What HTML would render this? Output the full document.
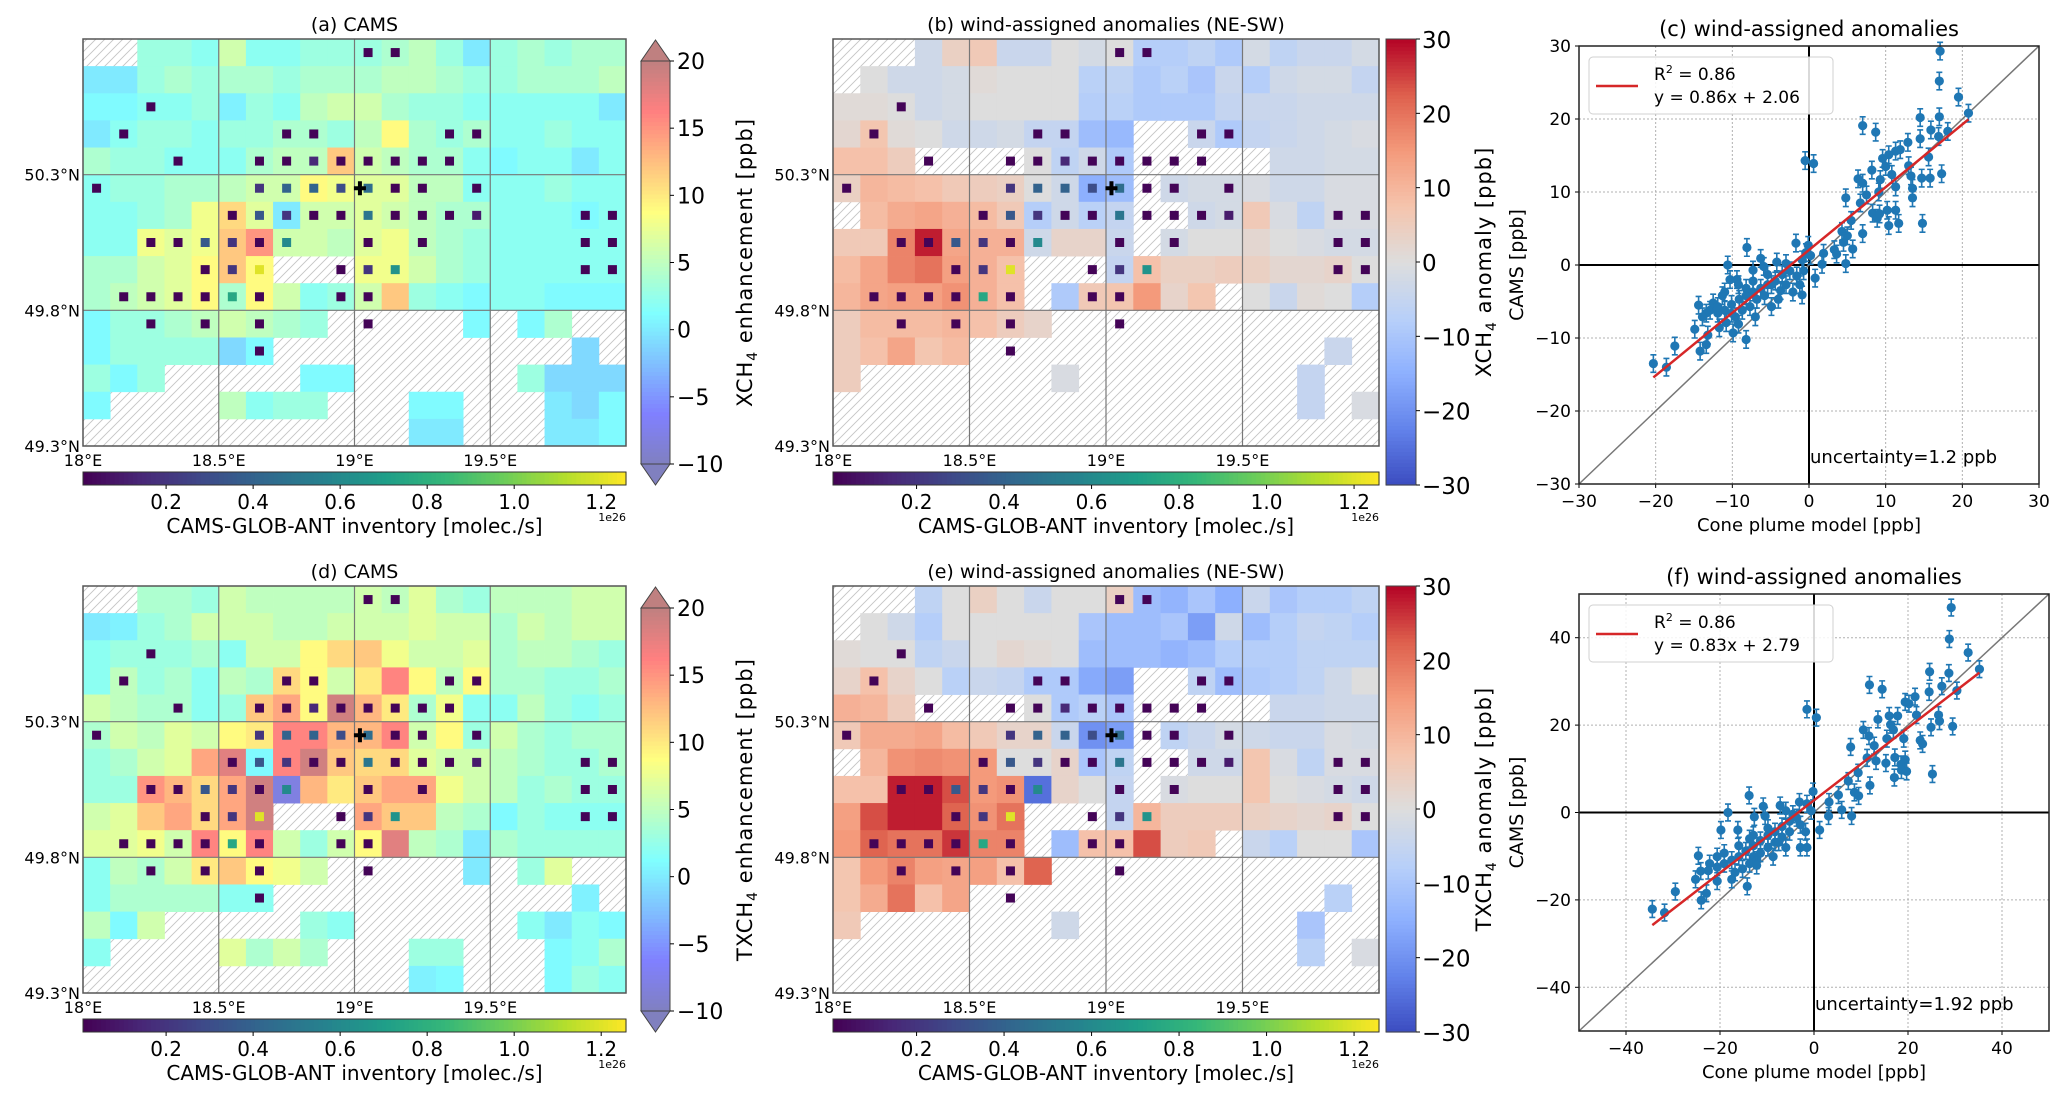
<!DOCTYPE html>
<html><head><meta charset="utf-8">
<style>
html,body{margin:0;padding:0;background:#fff;}
svg{display:block;font-family:"DejaVu Sans","Liberation Sans",sans-serif;}
</style></head>
<body>
<svg id="fig" xmlns="http://www.w3.org/2000/svg" width="2067" height="1103" viewBox="0 0 2067 1103">
<defs>
<pattern id="hatch" patternUnits="userSpaceOnUse" width="9" height="9">
<rect width="9" height="9" fill="#fff"/>
<path d="M-1,10 L10,-1 M-4,4 L4,-4 M5,13 L13,5" stroke="#c4c4c4" stroke-width="0.9"/>
</pattern>
</defs>
</svg>
<script>
const N = null;
// ---- map data (ppb), rows north->south, cols west->east (0.1 deg cells) ----
const gridA = [
[N,N,3,3,2,6,2,2,3,3,3,4,5,3,0,3,4,3,4,4],
[0,0,3,4,3,4,4,3,4,4,4,5,5,4,3,3,4,4,4,5],
[1,1,2,2,3,0.5,3,2,5,6,6,4,3,3,2,2,2,2,2,0],
[0,2,3,3,2,3,3,4,4,3,5,9,4,3,4,2,2,3,2,2],
[4,3,3,2,2,2,4,5,5,12,6,5,4,4,2,1,2,2,0,2],
[2,3,3,4,4,5,6,6,9,8,7,7,5,5,2,2,2,3,2,2],
[2,2,3,4,8,11,7,0,6,6,7,6,5,4,4,2,2,2,1,2],
[2,2,8,7,8,12,15,6,6,5,7,8,5,4,3,2,2,2,2,2],
[4,4,6,7,9,12,9,N,N,N,8,8,6,4,3,2,2,2,2,2],
[4,5,6,7,9,4,9,6,2,3,6,12,3,2,1,2,2,1,1,1],
[1,3,3,4,5,6,5,4,3,N,N,N,N,N,1,N,1,4,N,N],
[1,3,3,3,3,-1,1,N,N,N,N,N,N,N,N,N,N,N,-1,N],
[3,1,3,N,N,N,N,N,1,1,N,N,N,N,N,N,3,-1,-1,-1],
[1,N,N,N,N,5,2,3,3,N,N,N,1,1,N,N,N,0,-1,1],
[N,N,N,N,N,N,N,N,N,N,N,N,0,0,N,N,N,0,0,1]];
const gridB = [
[N,N,N,-3,4,6,-4,-4,0,-2,0,-8,-8,-6,-9,-2,-6,-4,-4,-2],
[N,0,-3,-3,-2,1,0,0,0,-7,-6,-9,-7,-10,-4,-8,-3,-2,-2,-5],
[1,1,0,-3,-2,0,0,0,0,-8,-7,-9,-9,-9,-5,-4,-4,-3,-3,-3],
[2,7,1,0,-3,-3,-2,-5,-5,-12,-13,N,N,-4,-9,-5,-4,-3,-2,-1],
[8,8,5,N,N,N,N,0,-6,-3,-9,N,N,N,N,N,-3,-3,-2,-2],
[4,10,9,8,6,5,4,0,-3,-15,-12,N,-3,-2,-2,-1,-3,-3,-1,-1],
[N,9,12,13,11,9,6,-8,-3,-7,-5,N,N,-3,-2,6,-1,-6,-1,-1],
[6,6,18,28,13,11,11,-3,3,3,-4,N,-2,0,0,2,0,-1,-2,-2],
[9,13,18,20,14,11,8,N,N,N,-5,8,4,4,5,4,2,2,3,0],
[10,13,14,14,16,11,8,N,-9,6,7,15,3,7,N,0,-4,1,0,-8],
[5,9,9,9,10,8,5,3,N,N,N,N,N,N,N,N,N,N,N,N],
[5,8,13,7,9,N,N,N,N,N,N,N,N,N,N,N,N,N,-4,N],
[5,N,N,N,N,N,N,N,-1,N,N,N,N,N,N,N,N,-5,N,N],
[N,N,N,N,N,N,N,N,N,N,N,N,N,N,N,N,N,-5,N,-1],
[N,N,N,N,N,N,N,N,N,N,N,N,N,N,N,N,N,N,N,N]];
const gridD = [
[N,N,4,4,3,6,5,5,5,5,6,5,7,4,3,5,5,5,6,6],
[0,0.5,3,4,6,6,6,5,5,6,6,6,7,6,6,4,6,5,6,6],
[2,3,3,3,4,2,6,6,9,11,12,8,6,6,7,4,5,5,4,3],
[2,5,3,4,2,5,4,11,9,6,10,16,9,5,9,4,4,3,3,4],
[6,5,4,4,2,3,12,14,9,19,13,10,4,8,2,2,5,3,2,3],
[4,6,5,7,6,9,10,16,16,13,13,16,6,9,3,6,4,3,4,4],
[3,4,6,7,14,18,1,16,19,12,11,11,7,6,6,5,4,3,3,4],
[3,3,15,13,11,14,19,-8,13,10,12,14,14,8,6,5,3,4,3,3],
[6,7,12,14,11,14,19,N,N,N,14,12,12,5,4,1,3,2,2,2],
[7,7,8,6,16,9,16,6,3,6,9,18,5,4,0,4,3,3,3,3],
[2,5,4,6,10,12,9,8,6,N,N,N,N,N,0,N,3,7,N,N],
[2,4,4,4,4,2,2,N,N,N,N,N,N,N,N,N,N,N,0.5,N],
[5,1,6,N,N,N,N,N,3,2,N,N,N,N,N,N,2,0,2,1],
[2,N,N,N,N,7,4,6,4,N,N,N,3,3,N,N,N,1,2,4],
[N,N,N,N,N,N,N,N,N,N,N,N,0.5,1,N,N,N,1,3,2]];
const gridE = [
[N,N,N,-6,0,4,0,-4,0,0,4,-12,-14,-10,-15,-4,-10,-8,-8,-6],
[N,0,-3,-8,0,0,0,0,0,-10,-12,-12,-10,-18,-3,-12,-8,-5,-6,-8],
[1,0,0,-6,-4,0,2,1,0,-12,-12,-12,-14,-12,-8,-8,-8,-6,-6,-6],
[3,8,3,0,-7,-4,-5,-9,-9,-16,-18,N,N,-6,-12,-9,-8,-6,-3,0],
[11,10,5,N,N,N,N,0,-9,-7,-10,N,N,N,N,N,-4,-4,-3,-3],
[6,12,12,13,9,6,3,3,-4,-20,-18,N,-6,-4,-2,-3,-4,-4,-1,-2],
[N,10,16,17,16,15,0,0,3,-10,-6,N,N,-3,-3,7,-1,-6,-1,-1],
[8,8,28,28,24,15,16,-25,3,0,-5,N,-1,0,0,7,0,-1,-2,-3],
[14,24,28,28,22,16,20,N,N,N,-5,10,5,5,5,4,3,2,3,0],
[15,22,20,20,26,18,18,N,-12,8,8,24,5,6,N,-4,-7,0,0,-10],
[7,15,18,14,13,14,8,22,N,N,N,N,N,N,N,N,N,N,N,N],
[7,12,20,8,13,N,N,N,N,N,N,N,N,N,N,N,N,N,-7,N],
[6,N,N,N,N,N,N,N,-3,N,N,N,N,N,N,N,N,-10,N,N],
[N,N,N,N,N,N,N,N,N,N,N,N,N,N,N,N,N,-7,N,-1],
[N,N,N,N,N,N,N,N,N,N,N,N,N,N,N,N,N,N,N,N]];
// inventory sources: column index, row index, emission (1e26 molec/s)
const srcCol = [10,11,2,1,7,8,13,14,3,6,7,8,9,10,11,12,13,0,6,7,8,9,10,11,12,14,5,6,7,8,9,10,11,12,13,14,18,19,2,3,4,5,6,7,10,12,18,19,4,5,6,9,10,11,18,19,1,2,3,4,5,6,9,10,2,4,6,10,6];
const srcRow = [0,0,2,3,3,3,3,3,4,4,4,4,4,4,4,4,4,5,5,5,5,5,5,5,5,5,6,6,6,6,6,6,6,6,6,6,6,6,7,7,7,7,7,7,7,7,7,7,8,8,8,8,8,8,8,8,9,9,9,9,9,9,9,9,10,10,10,10,11];
const srcVal = [0.02,0.02,0.02,0.02,0.02,0.02,0.02,0.02,0.02,0.02,0.02,0.15,0.02,0.02,0.02,0.02,0.02,0.02,0.2,0.4,0.4,0.3,0.45,0.02,0.02,0.02,0.02,0.35,0.2,0.02,0.02,0.5,0.02,0.02,0.02,0.1,0.02,0.02,0.02,0.02,0.35,0.2,0.02,0.6,0.02,0.02,0.02,0.02,0.02,0.2,1.2,0.02,0.2,0.65,0.02,0.02,0.02,0.02,0.02,0.02,0.75,0.02,0.02,0.02,0.02,0.02,0.02,0.02,0.02];
const siteLon = [19.02];
const siteLat = [50.25];
const latTicks = [50.3, 49.8, 49.3];
const latLabels = ["50.3°N","49.8°N","49.3°N"];
const lonTicks = [18, 18.5, 19, 19.5];
const lonLabels = ["18°E","18.5°E","19°E","19.5°E"];
const jetTicks = [20,15,10,5,0,-5,-10];
const cwTicks = [30,20,10,0,-10,-20,-30];
const invTicks = [0.2,0.4,0.6,0.8,1.0,1.2];
// ---- scatter data ----
const cX = [17.1,17.0,19.5,20.8,7.0,8.7,14.5,17.0,14.5,15.9,16.9,18.1,12.9,11.9,11.3,10.4,9.6,-0.5,0.6,15.6,13.0,17.3,8.2,10.0,10.8,13.3,14.7,15.8,6.4,7.0,9.3,11.3,13.5,9.1,7.5,4.8,13.5,6.7,10.2,11.3,8.3,8.9,9.2,14.8,11.7,10.4,5.5,4.3,7.0,5.0,4.5,5.7,3.3,3.6,1.9,1.7,4.8,0.8,-1.7,-0.1,-0.4,0.2,-0.9,-8.1,-10.6,-6.3,-5.9,-7.3,-4.2,-3.0,-2.5,-3.5,-4.4,-5.4,-6.3,-7.3,-8.2,-9.1,-10.3,-9.4,-10.1,-11.0,-11.9,-12.9,-13.4,-14.4,-7.7,-8.7,-9.6,-10.8,-11.7,-9.9,-7.0,-4.9,-4.0,-2.1,-0.9,-1.2,-14.9,-13.2,-14.2,-13.4,-17.5,-20.3,-18.6,-8.2,-11.3,-12.5,-13.9,-9.2,-7.3,-5.4,-8.2,-6.8,-5.8,-11.0,-11.9,-10.1,-9.2,-4.9,-3.7,-3.0,-1.6,-0.7];
const cY = [29.3,25.2,23.0,20.8,19.1,18.2,20.2,20.3,17.3,18.5,17.6,18.3,16.8,15.8,15.6,15.1,14.6,14.3,13.9,14.8,13.6,12.5,13.0,13.5,12.4,12.2,11.9,11.9,11.8,11.2,11.7,10.7,10.5,10.0,9.6,9.2,9.2,8.5,7.5,7.5,7.1,6.4,7.0,5.7,5.7,5.4,6.1,4.6,4.3,4.0,3.1,2.2,2.1,1.5,1.6,0.1,0.2,-1.8,3.0,2.7,1.7,1.3,0.7,2.4,0.0,0.9,-0.2,-0.7,0.4,0.2,-0.8,-1.3,-2.2,-2.7,-3.2,-3.7,-4.2,-4.7,-2.0,-2.0,-5.4,-6.2,-6.6,-6.2,-6.6,-5.5,-5.7,-6.2,-7.1,-7.9,-8.6,-9.3,-7.1,-5.7,-4.7,-3.7,-4.1,-2.7,-8.8,-9.6,-11.8,-10.9,-11.1,-13.5,-14.0,-10.2,-4.2,-5.2,-7.1,-2.7,-2.2,-1.3,-3.2,-4.7,-4.2,-3.7,-5.7,-6.6,-8.1,-2.7,-3.5,-2.7,-1.5,-0.8];
const fX = [29.2,28.8,32.8,35.2,24.6,28.7,11.8,14.5,27.2,24.5,30.4,21.5,19.4,20.2,-1.5,0.5,16.0,13.6,17.8,21.8,26.5,26.7,24.9,29.5,10.5,11.7,16.3,16.9,19.1,22.6,12.8,7.8,15.5,23.1,11.3,13.2,17.2,15.3,18.5,19.4,18.6,19.7,17.1,25.2,9.4,7.3,11.9,8.6,9.5,5.2,3.2,5.9,3.1,8.0,1.2,-0.2,-1.5,-0.6,-3.1,-13.8,-18.3,-10.8,-12.7,-10.4,-7.2,-6.0,-4.5,-5.2,-6.8,-8.3,-9.8,-11.4,-12.9,-14.5,-16.0,-17.5,-19.1,-19.8,-16.2,-20.6,-22.2,-22.5,-24.6,-25.2,-24.1,-20.6,-17.5,-14.2,-22.9,-24.0,-29.5,-34.4,-31.8,-12.9,-11.4,-9.8,-8.3,-6.8,-5.2,-13.7,-15.2,-16.8,-12.2,-19.1,-16.0,-12.9,-9.8,-7.5,-6.0,-2.9,-1.5,-1.8,-2.9,-3.7,-8.7,-12.2,-20.6,-13.7];
const fY = [46.9,39.7,36.6,32.8,32.2,31.9,29.2,28.2,28.9,27.6,27.9,26.5,25.3,24.9,23.6,21.7,22.1,21.3,22.1,22.3,22.3,20.9,19.5,19.7,18.9,17.5,20.1,18.9,16.9,16.5,15.3,15.0,16.9,15.7,12.5,11.8,12.6,11.3,11.0,12.1,9.7,9.4,8.0,8.8,9.1,7.2,6.2,4.6,3.8,4.0,2.4,0.6,-0.8,-0.8,-4.0,4.8,2.0,0.4,2.4,3.9,0.0,1.4,-1.0,-0.8,1.6,0.4,-0.4,-2.0,-3.2,-4.4,-5.2,-6.4,-7.6,-8.8,-10.1,-10.9,-11.7,-4.0,-4.0,-12.5,-11.7,-13.3,-9.9,-15.3,-13.4,-15.7,-15.3,-16.9,-18.5,-20.1,-18.1,-22.1,-22.9,-10.1,-9.3,-8.0,-6.8,-5.6,-4.4,-11.7,-12.9,-13.7,-10.9,-9.3,-7.6,-5.2,-3.6,-6.8,-8.0,-8.0,-8.0,-4.4,-2.8,-1.2,-10.1,-12.1,-10.1,-6.0];
const fitC = [0.86, 2.06];
const fitF = [0.83, 2.79];
const cTicks = [-30,-20,-10,0,10,20,30];
const fTicks = [-40,-20,0,20,40];

const SVGNS = "http://www.w3.org/2000/svg";
const svg = document.getElementById('fig');
function mk(tag, attrs, parent, txt){
  const e = document.createElementNS(SVGNS, tag);
  for (const k in attrs) e.setAttribute(k, attrs[k]);
  if (txt !== undefined) e.textContent = txt;
  (parent || svg).appendChild(e);
  return e;
}
function clamp(v){return Math.max(0, Math.min(1, v));}
function rgb(r,g,b){return `rgb(${Math.round(r)},${Math.round(g)},${Math.round(b)})`;}
function jetAlpha(v){
  const t = clamp((v + 10) / 30);
  const r = clamp(Math.min(4*t - 1.5, -4*t + 4.5));
  const g = clamp(Math.min(4*t - 0.5, -4*t + 3.5));
  const b = clamp(Math.min(4*t + 0.5, -4*t + 2.5));
  return rgb((r*0.5+0.5)*255, (g*0.5+0.5)*255, (b*0.5+0.5)*255);
}
function interp(nodes, t){
  t = clamp(t);
  const n = nodes.length - 1;
  const i = Math.min(n - 1, Math.floor(t * n));
  const f = t * n - i;
  const a = nodes[i], b = nodes[i+1];
  return rgb(a[0]+(b[0]-a[0])*f, a[1]+(b[1]-a[1])*f, a[2]+(b[2]-a[2])*f);
}
const CW = [[59,76,192],[98,130,234],[141,176,254],[184,208,249],[221,221,221],[245,196,173],[244,154,123],[222,96,77],[180,4,38]];
function coolwarm(v){ return interp(CW, (v + 30) / 60); }
const VIR = [[68,1,84],[72,40,120],[62,74,137],[49,104,142],[38,130,142],[31,158,137],[53,183,121],[109,205,89],[180,222,44],[253,231,37]];
function viridis(v){ return interp(VIR, (v - 0.009) / 1.248); }

function drawMap(P, grid, cmap, label){
  const g = mk('g', {});
  
  
  const lonX = lon => P.x + (lon - 18) / 2 * P.w;
  const latY = lat => P.y + (50.8 - lat) / 1.5 * P.h;
  const bg = mk('rect', {x:P.x, y:P.y, width:P.w, height:P.h, fill:'url(#hatch)'}, g);
  
  
  for (let r = 0; r < grid.length; r++){
    for (let c = 0; c < grid[r].length; c++){
      const v = grid[r][c];
      if (v === null) continue;
      const x0 = lonX(18 + c*0.1), x1 = lonX(18 + (c+1)*0.1);
      const y0 = latY(50.8 - r*0.1), y1 = latY(50.8 - (r+1)*0.1);
      const cell = mk('rect', {x:x0, y:y0, width:x1-x0+0.4, height:y1-y0+0.4, fill:cmap(v)}, g);
      
      
    }
  }
  lonTicks.forEach((lon, i) => {
    if (i > 0){
      const gl = mk('line', {x1:lonX(lon), x2:lonX(lon), y1:P.y, y2:P.y+P.h, stroke:'#777', 'stroke-width':1.2}, g);
      
      
    }
    const t = mk('text', {x:lonX(lon), y:P.y+P.h+20, 'text-anchor':'middle', 'font-size':16}, g, lonLabels[i]);
    
    
  });
  latTicks.forEach((lat, i) => {
    if (lat > 49.3){
      const gl = mk('line', {x1:P.x, x2:P.x+P.w, y1:latY(lat), y2:latY(lat), stroke:'#777', 'stroke-width':1.2}, g);
      
      
    }
    const t = mk('text', {x:P.x-3, y:latY(lat)+6, 'text-anchor':'end', 'font-size':16}, g, latLabels[i]);
    
    
  });
  const s = 9;
  for (let i = 0; i < srcCol.length; i++){
    const cx = lonX(18 + (srcCol[i]+0.5)*0.1), cy = latY(50.8 - (srcRow[i]+0.5)*0.1);
    const sq = mk('rect', {x:cx-s/2, y:cy-s/2, width:s, height:s, fill:viridis(srcVal[i])}, g);
    
    
  }
  for (let i = 0; i < siteLon.length; i++){
    const cx = lonX(siteLon[i]), cy = latY(siteLat[i]);
    const pl = mk('path', {d:`M${cx-6},${cy} H${cx+6} M${cx},${cy-7} V${cy+7}`, stroke:'#000', 'stroke-width':4}, g);
    
    
  }
  const fr = mk('rect', {x:P.x, y:P.y, width:P.w, height:P.h, fill:'none', stroke:'#555', 'stroke-width':1.5}, g);
  
  
  const tt = mk('text', {x:P.x+P.w/2, y:P.y-8, 'text-anchor':'middle', 'font-size':19}, svg, P.title);
  
  
  // horizontal inventory colorbar
  const hy = P.y + P.h + 26, hh = 13;
  const invX = v => P.x + (v - 0.009) / 1.248 * P.w;
  const hb = mk('g', {});
  
  
  const steps = 120;
  for (let i = 0; i < steps; i++){
    const v0 = 0.009 + 1.248 * i / steps;
    mk('rect', {x:invX(v0), y:hy, width:P.w/steps+0.6, height:hh, fill:viridis(v0 + 1.248/steps/2)}, hb);
  }
  mk('rect', {x:P.x, y:hy, width:P.w, height:hh, fill:'none', stroke:'#333', 'stroke-width':1}, hb);
  invTicks.forEach(v => {
    mk('line', {x1:invX(v), x2:invX(v), y1:hy+hh, y2:hy+hh+4, stroke:'#000'}, hb);
    const t = mk('text', {x:invX(v), y:hy+hh+24, 'text-anchor':'middle', 'font-size':20}, hb, v.toFixed(1));
    
    
  });
  const e26 = mk('text', {x:P.x+P.w, y:hy+hh+36, 'text-anchor':'end', 'font-size':11}, hb, '1e26');
  
  
  const hl = mk('text', {x:P.x+P.w/2, y:hy+hh+48, 'text-anchor':'middle', 'font-size':20}, hb, 'CAMS-GLOB-ANT inventory [molec./s]');
  
  
}

function drawJetBar(B, label, ylabelMain){
  const g = mk('g', {});
  
  
  const vY = v => B.y1 - (v + 10) / 30 * (B.y1 - B.y0);
  const steps = 100;
  for (let i = 0; i < steps; i++){
    const v0 = -10 + 30 * i / steps;
    mk('rect', {x:B.x, y:vY(v0 + 30/steps), width:B.w, height:(B.y1-B.y0)/steps+0.6, fill:jetAlpha(v0 + 15/steps)}, g);
  }
  mk('path', {d:`M${B.x},${B.y0} L${B.x+B.w/2},${B.y0-21} L${B.x+B.w},${B.y0} Z`, fill:jetAlpha(21), stroke:'#444'}, g);
  mk('path', {d:`M${B.x},${B.y1} L${B.x+B.w/2},${B.y1+21} L${B.x+B.w},${B.y1} Z`, fill:jetAlpha(-11), stroke:'#444'}, g);
  mk('rect', {x:B.x, y:B.y0, width:B.w, height:B.y1-B.y0, fill:'none', stroke:'#444'}, g);
  jetTicks.forEach(v => {
    mk('line', {x1:B.x+B.w, x2:B.x+B.w+4, y1:vY(v), y2:vY(v), stroke:'#000'}, g);
    const t = mk('text', {x:B.x+B.w+7, y:vY(v)+8, 'font-size':22}, g, v < 0 ? '\u2212' + (-v) : String(v));
    
    
  });
  const cy = (B.y0 + B.y1) / 2;
  const yl = mk('text', {x:0, y:0, 'text-anchor':'middle', 'font-size':21, 'letter-spacing':'1', transform:`translate(${B.x+B.w+82},${cy}) rotate(-90)`}, g);
  
  
  mk('tspan', {}, yl, ylabelMain);
  mk('tspan', {'font-size':14, dy:5}, yl, '4');
  mk('tspan', {dy:-5}, yl, ' enhancement [ppb]');
}

function drawCwBar(B, label, ylabelMain){
  const g = mk('g', {});
  
  
  const vY = v => B.y1 - (v + 30) / 60 * (B.y1 - B.y0);
  const steps = 120;
  for (let i = 0; i < steps; i++){
    const v0 = -30 + 60 * i / steps;
    mk('rect', {x:B.x, y:vY(v0 + 60/steps), width:B.w, height:(B.y1-B.y0)/steps+0.6, fill:coolwarm(v0 + 30/steps)}, g);
  }
  mk('rect', {x:B.x, y:B.y0, width:B.w, height:B.y1-B.y0, fill:'none', stroke:'#444'}, g);
  cwTicks.forEach(v => {
    mk('line', {x1:B.x+B.w, x2:B.x+B.w+4, y1:vY(v), y2:vY(v), stroke:'#000'}, g);
    const t = mk('text', {x:B.x+B.w+6, y:vY(v)+9, 'font-size':23}, g, v < 0 ? '\u2212' + (-v) : String(v));
    
    
  });
  const cy = (B.y0 + B.y1) / 2;
  const yl = mk('text', {x:0, y:0, 'text-anchor':'middle', 'font-size':21, 'letter-spacing':'1', transform:`translate(${B.x+B.w+75},${cy}) rotate(-90)`}, g);
  
  
  mk('tspan', {}, yl, ylabelMain);
  mk('tspan', {'font-size':14, dy:5}, yl, '4');
  mk('tspan', {dy:-5}, yl, ' anomaly [ppb]');
}

function drawScatter(A, xs, ys, fit, ticks, unc, label){
  const g = mk('g', {});
  
  
  const sx = v => A.x + (v - A.min) / (A.max - A.min) * A.w;
  const sy = v => A.y + A.h - (v - A.min) / (A.max - A.min) * A.h;
  ticks.forEach(v => {
    const gx = mk('line', {x1:sx(v), x2:sx(v), y1:A.y, y2:A.y+A.h, stroke:'#b0b0b0', 'stroke-dasharray':'2,2', 'stroke-width':1}, g);
    
    
    const gy = mk('line', {x1:A.x, x2:A.x+A.w, y1:sy(v), y2:sy(v), stroke:'#b0b0b0', 'stroke-dasharray':'2,2', 'stroke-width':1}, g);
    
    
    const lab = v < 0 ? '\u2212' + (-v) : String(v);
    const tx = mk('text', {x:sx(v), y:A.y+A.h+23, 'text-anchor':'middle', 'font-size':17}, g, lab);
    
    
    const ty = mk('text', {x:A.x-8, y:sy(v)+6, 'text-anchor':'end', 'font-size':17}, g, lab);
    
    
    mk('line', {x1:sx(v), x2:sx(v), y1:A.y+A.h, y2:A.y+A.h+4, stroke:'#000'}, g);
    mk('line', {x1:A.x-4, x2:A.x, y1:sy(v), y2:sy(v), stroke:'#000'}, g);
  });
  const z1 = mk('line', {x1:sx(0), x2:sx(0), y1:A.y, y2:A.y+A.h, stroke:'#000', 'stroke-width':2}, g);
  
  
  const z2 = mk('line', {x1:A.x, x2:A.x+A.w, y1:sy(0), y2:sy(0), stroke:'#000', 'stroke-width':2}, g);
  
  
  const one = mk('line', {x1:sx(A.min), y1:sy(A.min), x2:sx(A.max), y2:sy(A.max), stroke:'#777', 'stroke-width':1.5}, g);
  
  
  const col = '#1f77b4';
  for (let i = 0; i < xs.length; i++){
    const px = sx(xs[i]), py = sy(ys[i]);
    const e1 = sy(ys[i] + unc), e2 = sy(ys[i] - unc);
    const eb = mk('path', {d:`M${px},${e1} V${e2} M${px-3},${e1} H${px+3} M${px-3},${e2} H${px+3}`, stroke:col, 'stroke-width':1.6, fill:'none'}, g);
    
    
    const dot = mk('circle', {cx:px, cy:py, r:4.6, fill:col}, g);
    
    
  }
  let xmin = Math.min(...xs), xmax = Math.max(...xs);
  const fl = mk('line', {x1:sx(xmin), y1:sy(fit[0]*xmin+fit[1]), x2:sx(xmax), y2:sy(fit[0]*xmax+fit[1]), stroke:'#d62728', 'stroke-width':2.5}, g);
  
  
  const fr = mk('rect', {x:A.x, y:A.y, width:A.w, height:A.h, fill:'none', stroke:'#222', 'stroke-width':1.5}, g);
  
  
  // legend
  const lg = mk('g', {});
  
  
  const ly = A.y + 11;
  mk('rect', {x:A.x+10, y:ly, width:244, height:57, rx:4, fill:'#fff', 'fill-opacity':0.85, stroke:'#d0d0d0'}, lg);
  mk('line', {x1:A.x+17, x2:A.x+59, y1:ly+29, y2:ly+29, stroke:'#d62728', 'stroke-width':2.5}, lg);
  const t1 = mk('text', {x:A.x+75, y:ly+23, 'font-size':17}, lg);
  mk('tspan', {}, t1, 'R');
  mk('tspan', {'font-size':11, dy:-7}, t1, '2');
  mk('tspan', {dy:7}, t1, ' = 0.86');
  const t2 = mk('text', {x:A.x+75, y:ly+46, 'font-size':17}, lg, `y = ${fit[0].toFixed(2)}x + ${fit[1].toFixed(2)}`);
  
  
  const ut = mk('text', {x:sx(0)+1, y:A.y+A.h-21, 'font-size':18}, g, `uncertainty=${unc} ppb`);
  
  
  const xl = mk('text', {x:A.x+A.w/2, y:A.y+A.h+47, 'text-anchor':'middle', 'font-size':18}, g, 'Cone plume model [ppb]');
  
  
  const yl = mk('text', {x:0, y:0, 'text-anchor':'middle', 'font-size':19, transform:`translate(${A.x-56},${A.y+A.h/2}) rotate(-90)`}, g, 'CAMS [ppb]');
  
  
  const tt = mk('text', {x:A.x+A.w/2, y:A.y-10, 'text-anchor':'middle', 'font-size':21}, g, A.title);
  
  
}

drawMap({x:83, y:39, w:543, h:407, title:'(a) CAMS'}, gridA, jetAlpha, 'panel-a');
drawJetBar({x:641, w:29, y0:61, y1:464}, 'panel-a', 'XCH');
drawMap({x:833, y:39, w:546, h:407, title:'(b) wind-assigned anomalies (NE-SW)'}, gridB, coolwarm, 'panel-b');
drawCwBar({x:1386, w:30, y0:39, y1:485}, 'panel-b', 'XCH');
drawScatter({x:1579, y:46, w:460, h:438, min:-30, max:30, title:'(c) wind-assigned anomalies'}, cX, cY, fitC, cTicks, 1.2, 'panel-c');
drawMap({x:83, y:586, w:543, h:407, title:'(d) CAMS'}, gridD, jetAlpha, 'panel-d');
drawJetBar({x:641, w:29, y0:608, y1:1011}, 'panel-d', 'TXCH');
drawMap({x:833, y:586, w:546, h:407, title:'(e) wind-assigned anomalies (NE-SW)'}, gridE, coolwarm, 'panel-e');
drawCwBar({x:1386, w:30, y0:586, y1:1032}, 'panel-e', 'TXCH');
drawScatter({x:1579, y:594, w:470, h:437, min:-50, max:50, title:'(f) wind-assigned anomalies'}, fX, fY, fitF, fTicks, 1.92, 'panel-f');
</script>
</body></html>
